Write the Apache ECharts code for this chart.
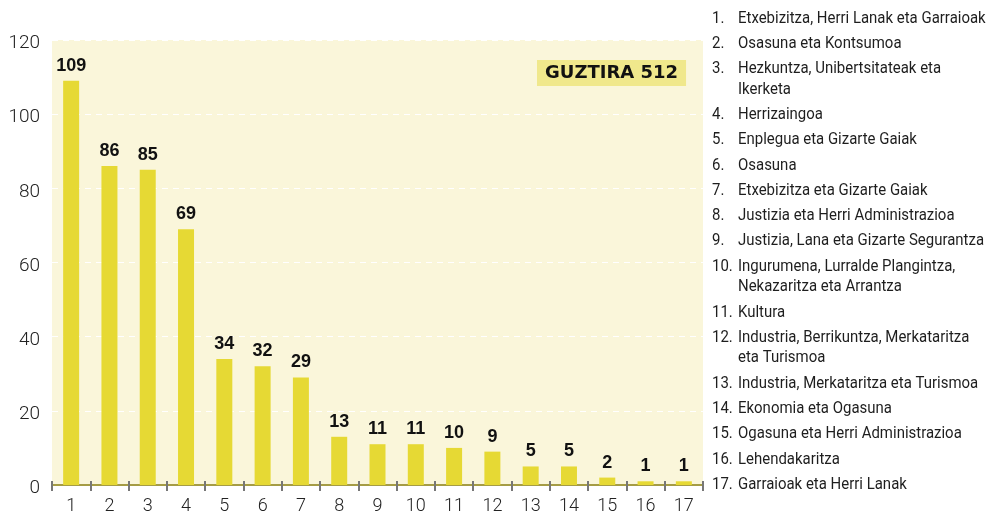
<!DOCTYPE html>
<html>
<head>
    <meta charset="utf-8">
    <script src="https://cdn.jsdelivr.net/npm/echarts@6/dist/echarts.min.js"></script>
</head>
<body style="margin:0">
    <div id="main" style="width: 995px;height:512px"></div>
    <script type="text/javascript">
        // datuak
        var categories = ['1','2','3','4','5','6','7','8','9','10','11','12','13','14','15','16','17'];
        var values = [109, 86, 85, 69, 34, 32, 29, 13, 11, 11, 10, 9, 5, 5, 2, 1, 1];
        var legendItems = [
            'Etxebizitza, Herri Lanak eta Garraioak',
            'Osasuna eta Kontsumoa',
            'Hezkuntza, Unibertsitateak eta\nIkerketa',
            'Herrizaingoa',
            'Enplegua eta Gizarte Gaiak',
            'Osasuna',
            'Etxebizitza eta Gizarte Gaiak',
            'Justizia eta Herri Administrazioa',
            'Justizia, Lana eta Gizarte Segurantza',
            'Ingurumena, Lurralde Plangintza,\nNekazaritza eta Arrantza',
            'Kultura',
            'Industria, Berrikuntza, Merkataritza\neta Turismoa',
            'Industria, Merkataritza eta Turismoa',
            'Ekonomia eta Ogasuna',
            'Ogasuna eta Herri Administrazioa',
            'Lehendakaritza',
            'Garraioak eta Herri Lanak'
        ];
        var totalText = 'GUZTIRA 512';

        // ezkerreko zerrenda (testu estua -> scaleX)
        var legendFont = '17px Roboto, sans-serif';
        var graphics = [];
        var y = 8;
        for (var i = 0; i < legendItems.length; i++) {
            var lines = legendItems[i].split('\n').length;
            graphics.push({
                type: 'text', x: 712, y: y, scaleX: 0.88,
                style: { text: (i + 1) + '.', font: legendFont, fill: '#1e1e1e', lineHeight: 20.5, verticalAlign: 'top' }
            });
            graphics.push({
                type: 'text', x: 738, y: y, scaleX: 0.88,
                style: { text: legendItems[i], font: legendFont, fill: '#1e1e1e', lineHeight: 20.5, verticalAlign: 'top' }
            });
            y += 25.3 + (lines - 1) * 20.5;
        }
        graphics.push({
            type: 'text', x: 537, y: 60,
            style: {
                text: totalText, font: 'bold 18px "DejaVu Sans", sans-serif', fill: '#111',
                backgroundColor: '#F0E88C', padding: [4, 8, 4, 8], verticalAlign: 'top'
            }
        });

        var myChart = echarts.init(document.getElementById('main'));
        var option = {
            animation: false,
            grid: {
                left: 52, right: 292, top: 40, bottom: 27,
                containLabel: false, outerBoundsMode: 'none',
                show: true, backgroundColor: '#FAF6DA', borderWidth: 0
            },
            xAxis: [{
                type: 'category',
                data: categories,
                axisLine: { lineStyle: { color: '#A59C45', width: 2 } },
                axisTick: { show: true, length: 6, lineStyle: { color: '#777', width: 2 } },
                axisLabel: { color: '#222', fontSize: 18, fontFamily: 'Roboto, sans-serif', fontWeight: 300, margin: 12 }
            }, {
                type: 'category',
                data: categories,
                position: 'bottom',
                axisLine: { show: false },
                axisTick: { show: true, inside: true, length: 4, lineStyle: { color: '#777', width: 2 } },
                axisLabel: { show: false }
            }],
            yAxis: {
                type: 'value',
                min: 0, max: 120, interval: 20,
                axisLine: { show: false },
                axisTick: { show: false },
                axisLabel: {
                    color: '#222', fontSize: 19, fontFamily: 'Roboto, sans-serif', fontWeight: 300,
                    margin: 12, verticalAlign: 'top', lineHeight: 7
                },
                splitLine: { lineStyle: { color: '#FFFFFF', type: [6, 5], width: 1 } }
            },
            series: [{
                type: 'bar',
                data: values,
                barWidth: 16,
                itemStyle: { color: '#E6D934' },
                label: {
                    show: true, position: 'top', distance: 6,
                    color: '#111', fontSize: 18, fontWeight: 'bold', fontFamily: '"Liberation Sans", Arial, sans-serif'
                }
            }],
            graphic: graphics
        };
        myChart.setOption(option);
    </script>
</body>
</html>
